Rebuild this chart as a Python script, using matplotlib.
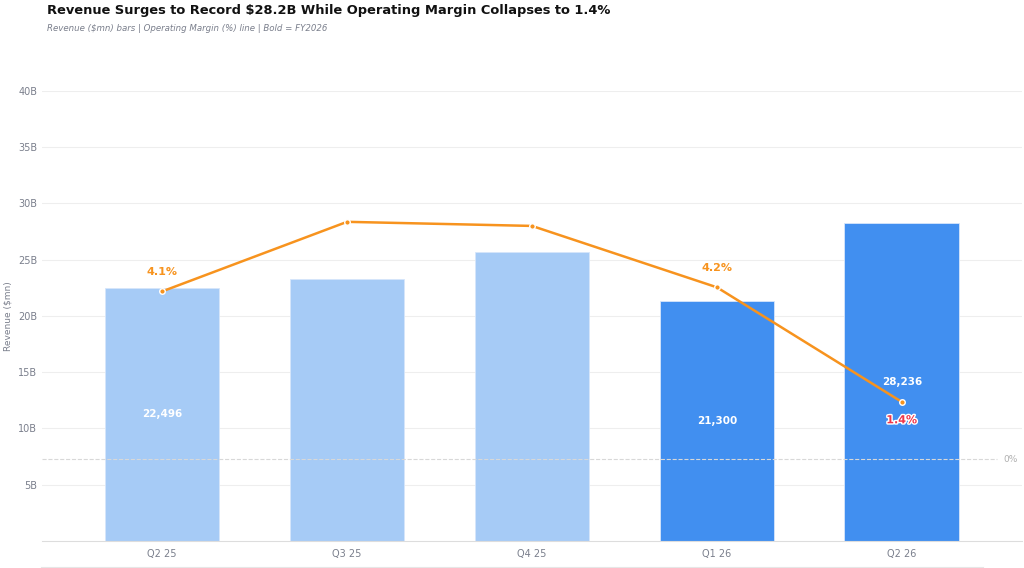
import matplotlib.pyplot as plt
from matplotlib.lines import Line2D
import matplotlib.patheffects as pe

# 数据
quarters = ['Q2 25', 'Q3 25', 'Q4 25', 'Q1 26', 'Q2 26']
revenue = [22496, 23300, 25700, 21300, 28236]  # $mn
margin = [4.1, 5.8, 5.7, 4.2, 1.4]  # %
fy2026 = [False, False, False, True, True]
bar_labels = ['22,496', '', '', '21,300', '28,236']
margin_labels = ['4.1%', '', '', '4.2%', '1.4%']

light = '#a6cbf6'
dark = '#418ff0'
orange = '#f7931e'
grey = '#7a7f8c'

plt.rcParams['font.family'] = ['DejaVu Sans']

fig = plt.figure(figsize=(10.24, 5.68), dpi=100)
ax = fig.add_axes([0.041, 0.0475, 0.957, 0.7925])

x = list(range(len(quarters)))
rev_b = [r / 1000 for r in revenue]
colors = [dark if f else light for f in fy2026]
ax.bar(x, rev_b, width=0.62, color=colors, edgecolor='#d6e6fb', linewidth=0.6, zorder=2)

for i in x:
    if bar_labels[i]:
        ax.text(i, rev_b[i] / 2, bar_labels[i], ha='center', va='center',
                color='white', fontsize=7.5, fontweight='bold', zorder=5)

ax.set_xlim(-0.65, 4.65)
ax.set_ylim(0, 40)
ax.set_yticks([5, 10, 15, 20, 25, 30, 35, 40])
ax.set_yticklabels(['5B', '10B', '15B', '20B', '25B', '30B', '35B', '40B'])
ax.set_xticks(x)
ax.set_xticklabels(quarters)
ax.tick_params(axis='both', length=0, labelsize=7, colors=grey)
ax.tick_params(axis='x', pad=6)
ax.grid(axis='y', color='#eeeeee', linewidth=0.8, zorder=0)
for s in ['top', 'right', 'left']:
    ax.spines[s].set_visible(False)
ax.spines['bottom'].set_color('#dddddd')
ax.set_ylabel('Revenue ($mn)', fontsize=6.5, color=grey)
ax.yaxis.set_label_coords(-0.03, 0.5)

# 营业利润率（副坐标轴）
ax2 = ax.twinx()
ax2.set_ylim(-2, 9)
ax2.set_yticks([])
for s in ax2.spines.values():
    s.set_visible(False)
ax2.axhline(0, color='#d8d8d8', linestyle='--', linewidth=0.8, xmax=0.975, zorder=1)
ax2.text(4.55, 0, '0%', ha='left', va='center', fontsize=6.5, color='#b0b0b0')
ax2.plot(x, margin, color=orange, linewidth=1.8, zorder=4)
ax2.plot(x, margin, 'o', color=orange, markersize=4, markeredgecolor='white',
         markeredgewidth=1, zorder=5)

for i in x:
    if margin_labels[i]:
        if i == len(x) - 1:
            ax2.text(i, margin[i] - 0.45, margin_labels[i], ha='center', va='center',
                     fontsize=8, fontweight='bold', color='#f0364a', zorder=6,
                     path_effects=[pe.withStroke(linewidth=2, foreground='white')])
        else:
            ax2.text(i, margin[i] + 0.47, margin_labels[i], ha='center', va='center',
                     fontsize=8, fontweight='bold', color=orange, zorder=6)

# 标题
fig.text(0.046, 0.993, 'Revenue Surges to Record $28.2B While Operating Margin Collapses to 1.4%',
         fontsize=9.4, fontweight='heavy', color='#111111', va='top')
fig.text(0.046, 0.958, 'Revenue ($mn) bars | Operating Margin (%) line | Bold = FY2026',
         fontsize=6.2, style='italic', color=grey, va='top')

fig.add_artist(Line2D([0.04, 0.96], [0.002, 0.002], color='#e6e6e6', linewidth=0.8))

fig.savefig('out.png', dpi=100)
